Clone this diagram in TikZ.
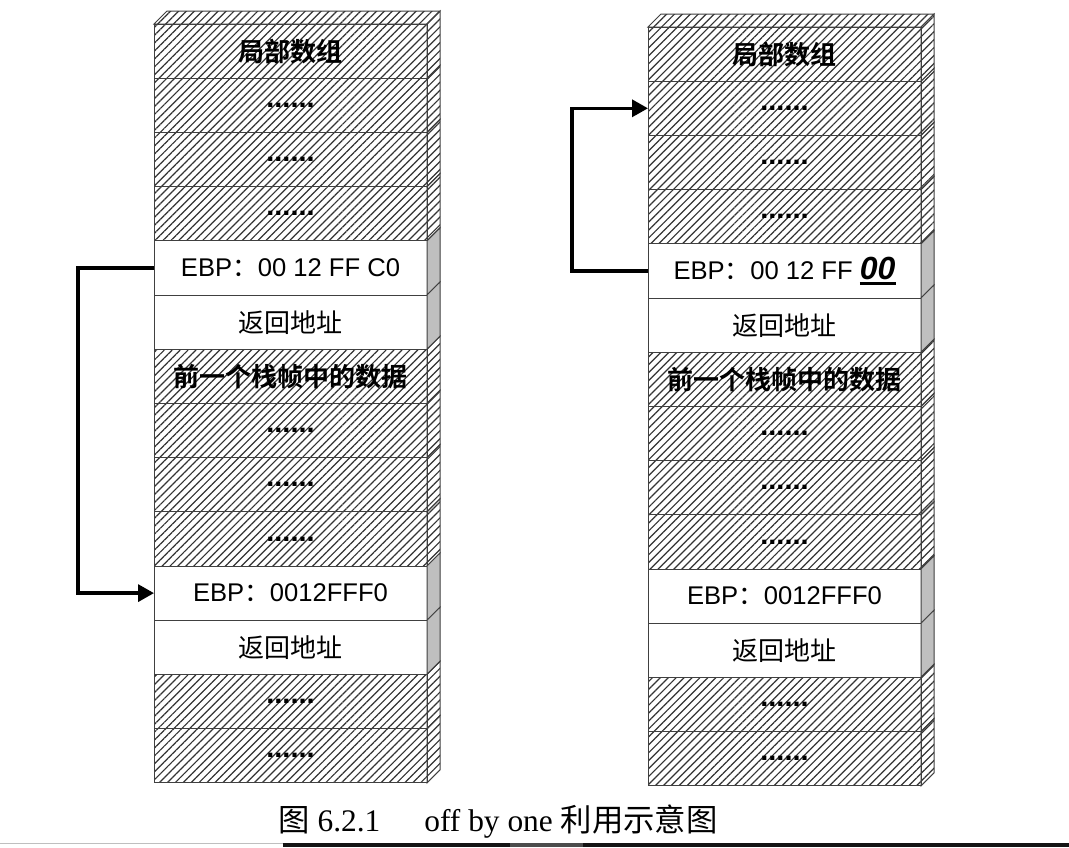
\documentclass[tikz,border=0pt]{standalone}
\usepackage{fontspec}
\setmainfont{Liberation Serif}
\setsansfont{Liberation Sans}
\newfontfamily\cjk[BoldFont={* Bold}]{Noto Sans CJK SC}
\usetikzlibrary{patterns.meta,arrows.meta,positioning}

\tikzset{
  cell/.style={draw=black!75, line width=0.5pt, minimum width=136.5pt,
    minimum height=27.1pt, inner sep=0pt, outer sep=0pt, anchor=north,
    font=\fontsize{12.8}{14}\selectfont},
  hatched/.style={pattern={Lines[angle=45,distance=2.8pt,line width=0.6pt]},
    pattern color=black!80},
  blank/.style={fill=white},
  shade/.style={fill=black!25},
  face/.style={draw=black!75, line width=0.5pt},
  link/.style={line width=1.7pt, -{Triangle[length=8pt,width=8.5pt]}},
}

\newcommand\dotsrow{{\fontsize{14.5}{15}\selectfont\sffamily\bfseries ......}}
\newcommand\boldcn[1]{{\fontsize{13}{15}\selectfont\cjk\bfseries #1}}
\newcommand\plaincn[1]{{\fontsize{13}{15}\selectfont\cjk #1}}
\newcommand\ebp[1]{{\sffamily EBP{\cjk ：}#1}}
\newcommand\thickul[1]{\setbox0\hbox{#1}\rlap{\rule[-3pt]{\wd0}{1.3pt}}\box0}

\begin{document}
\begin{tikzpicture}[x=0.5pt,y=-0.5pt]
  \fill[white] (0,0) rectangle (1069,847);
  \useasboundingbox (0,0) rectangle (1069,847);

  % two stacks, one row after the other
  \foreach \s/\xc/\yt/\val in {l/290.5/24/{00 12 FF C0},
      r/784.5/27/{00 12 FF {\fontsize{16}{16}\selectfont\bfseries\itshape\thickul{00}}}} {
    \foreach \n/\kind/\side/\txt in {
        1/hatched/hatched/{\boldcn{局部数组}},
        2/hatched/hatched/\dotsrow,
        3/hatched/hatched/\dotsrow,
        4/hatched/hatched/\dotsrow,
        5/blank/shade/{\ebp{\val}},
        6/blank/shade/{\plaincn{返回地址}},
        7/hatched/hatched/{\boldcn{前一个栈帧中的数据}},
        8/hatched/hatched/\dotsrow,
        9/hatched/hatched/\dotsrow,
        10/hatched/hatched/\dotsrow,
        11/blank/shade/{\ebp{0012FFF0}},
        12/blank/shade/{\plaincn{返回地址}},
        13/hatched/hatched/\dotsrow,
        14/hatched/hatched/\dotsrow} {
      \node[cell,\kind] (\s\n) at (\xc,{\yt+(\n-1)*54.2}) {\txt};
      \draw[face,\side] (\s\n.north east) -- ++(13,-13)
        -- ([shift={(13,-13)}]\s\n.south east) -- (\s\n.south east) -- cycle;
    }
    \draw[face,hatched] (\s1.north west) -- ++(13,-13)
      -- ([shift={(13,-13)}]\s1.north east) -- (\s1.north east) -- cycle;
  }

  % saved frame pointers
  \draw[link] (l5.west) -- ++(-76,0) |- (l11.west);
  \draw[link] (r5.west) -- ++(-76,0) |- (r2.west);

  \node[font=\fontsize{15.7}{18}\selectfont] (caption) at (498,822)
    {{\cjk 图} 6.2.1\hspace{22pt}off by one {\cjk 利用示意图}};

  % bottom edge of the page
  \draw[black!25, line width=0.5pt] (0,843.5) -- (283,843.5);
  \fill[black!92] (283,843) rectangle (1069,847);
  \fill[black!70] (510,843) rectangle (583,847);
\end{tikzpicture}
\end{document}
